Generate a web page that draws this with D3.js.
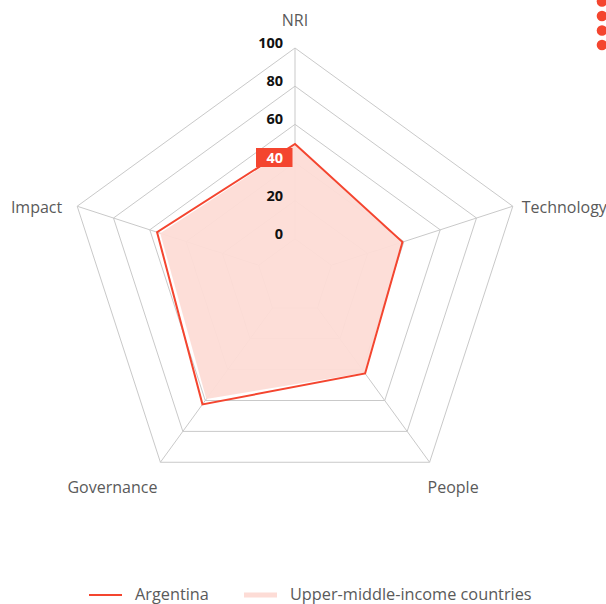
<!DOCTYPE html>
<html>
<head>
<meta charset="utf-8">
<script src="https://cdn.jsdelivr.net/npm/d3@7"></script>
<style>
  html, body { margin: 0; padding: 0; background: #fff; }
  svg { display: block; font-family: "Open Sans", "Noto Sans", sans-serif; }
</style>
</head>
<body>
<svg id="chart" width="606" height="604"></svg>
<script>
// Pillars of the index, clockwise from the top
const axes = ["NRI", "Technology", "People", "Governance", "Impact"];
// Scores (0-100)
const argentina = [49.7, 39.2, 42.5, 62.5, 56.0];
const upperMiddleIncome = [49.0, 38.6, 42.0, 59.0, 54.3];
// Ring values and labels
const ringValues = [0, 20, 40, 60, 80, 100];
const highlightedTick = 40;
const seriesNames = ["Argentina", "Upper-middle-income countries"];

const RED = "#f4452f";
const PINK = "#fddcd6";
const GRID = "#c9c9c9";
const TEXT = "#5a5a5a";

const svg = d3.select("#chart");
const cx = 295, cy = 277, R = 229;

// radial scale starts below zero so the zero ring sits off the centre
const r = d3.scaleLinear().domain([-20, 100]).range([0, R]);
const angle = d3.scalePoint().domain(axes).range([0, 2 * Math.PI * (axes.length - 1) / axes.length]);

const pt = (name, v) => {
  const a = angle(name);
  return [cx + r(v) * Math.sin(a), cy - r(v) * Math.cos(a)];
};

const g = svg.append("g");

// grid rings
g.selectAll("polygon.ring").data(ringValues).join("polygon")
  .attr("class", "ring")
  .attr("points", v => axes.map(a => pt(a, v).join(",")).join(" "))
  .attr("fill", "none").attr("stroke", GRID).attr("stroke-width", 1);

// spokes
g.selectAll("line.spoke").data(axes).join("line")
  .attr("class", "spoke")
  .attr("x1", a => pt(a, 0)[0]).attr("y1", a => pt(a, 0)[1])
  .attr("x2", a => pt(a, 100)[0]).attr("y2", a => pt(a, 100)[1])
  .attr("stroke", GRID).attr("stroke-width", 1);

const line = d3.line().curve(d3.curveLinearClosed);

// comparison group as a filled area
g.append("path")
  .attr("d", line(axes.map((a, i) => pt(a, upperMiddleIncome[i]))))
  .attr("fill", PINK).attr("fill-opacity", 0.95).attr("stroke", "none");

// country outline
g.append("path")
  .attr("d", line(axes.map((a, i) => pt(a, argentina[i]))))
  .attr("fill", "none").attr("stroke", RED).attr("stroke-width", 2)
  .attr("stroke-linejoin", "miter");

// ring labels along the top spoke
const tickG = g.append("g");
ringValues.forEach(v => {
  const y = cy - r(v) - 5;
  if (v === highlightedTick) {
    tickG.append("rect")
      .attr("x", cx - 39).attr("y", y - 9.5)
      .attr("width", 36.5).attr("height", 19)
      .attr("fill", RED);
  }
  tickG.append("text")
    .attr("x", cx - 12).attr("y", y)
    .attr("dy", "0.35em")
    .attr("text-anchor", "end")
    .attr("font-size", 14.5).attr("font-weight", 700)
    .attr("fill", v === highlightedTick ? "#fff" : "#111")
    .text(v);
});

// pillar labels
axes.forEach(a => {
  const ang = angle(a);
  const s = Math.sin(ang), c = Math.cos(ang);
  const [vx, vy] = pt(a, 100);
  let x = vx, y = vy, anchor = "middle";
  if (Math.abs(s) < 0.1) { y = vy - 28; }
  else if (c > 0) { x = vx + (s > 0 ? 9 : -15); anchor = s > 0 ? "start" : "end"; y = vy + 1; }
  else { x = vx + (s > 0 ? -2 : -3); anchor = s > 0 ? "start" : "end"; y = vy + 25; }
  g.append("text")
    .attr("x", x).attr("y", y).attr("dy", "0.35em")
    .attr("text-anchor", anchor)
    .attr("font-size", 16).attr("fill", TEXT)
    .text(a);
});

// legend
const leg = svg.append("g").attr("transform", "translate(0,595)");
leg.append("line").attr("x1", 89).attr("x2", 122).attr("y1", 0).attr("y2", 0)
  .attr("stroke", RED).attr("stroke-width", 2);
leg.append("text").attr("x", 135).attr("y", 4.8)
  .attr("font-size", 16.3).attr("fill", TEXT).text(seriesNames[0]);
leg.append("line").attr("x1", 244).attr("x2", 277).attr("y1", 0).attr("y2", 0)
  .attr("stroke", PINK).attr("stroke-width", 5);
leg.append("text").attr("x", 290).attr("y", 4.8)
  .attr("font-size", 16.3).attr("fill", TEXT).text(seriesNames[1]);

// menu dots in the corner
svg.append("g").selectAll("circle").data([0, 1, 2, 3]).join("circle")
  .attr("cx", 602).attr("cy", d => 1.5 + d * 14.5).attr("r", 5.3)
  .attr("fill", RED);
</script>
</body>
</html>
